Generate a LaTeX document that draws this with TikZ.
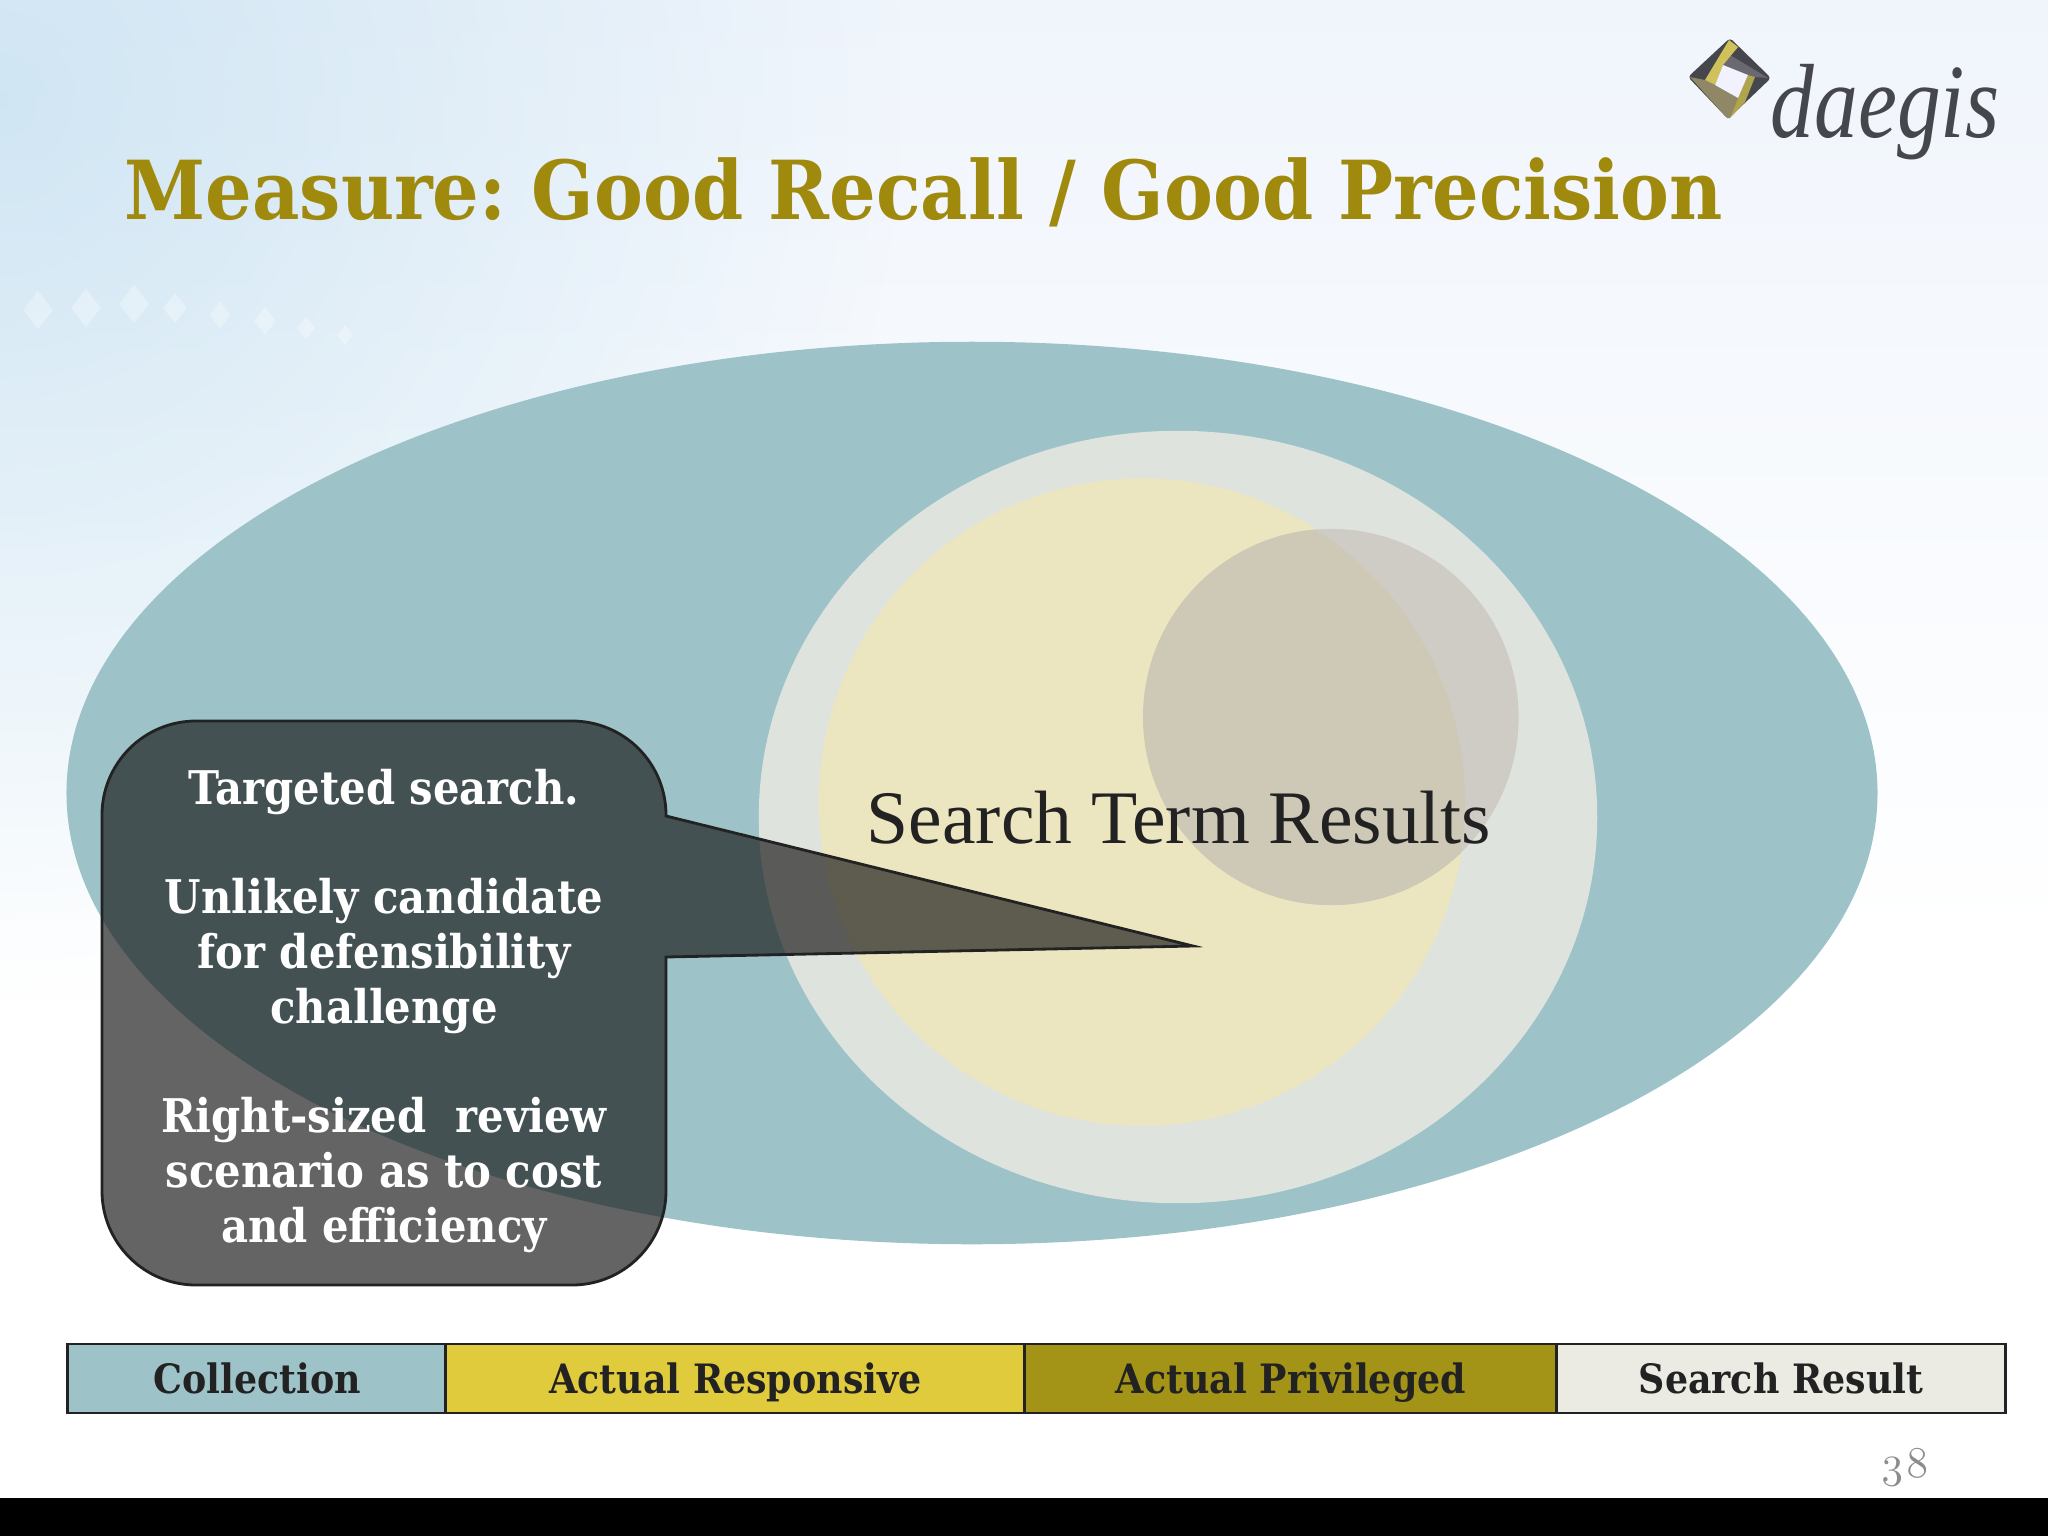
\documentclass[tikz,border=0pt]{standalone}
\usepackage{fontspec}
\usetikzlibrary{fadings,shapes.geometric}
\setmainfont{Liberation Serif}
\newfontfamily\georgia{DejaVu Serif Condensed}[BoldFont={DejaVu Serif Condensed Bold}]
\newfontfamily\oldnum{Latin Modern Roman}[Numbers=OldStyle]
\definecolor{tealc}{HTML}{9DC3C9}
\definecolor{ringc}{HTML}{DFE3DD}
\definecolor{creamc}{HTML}{EBE6BF}
\definecolor{privA}{HTML}{CDC9B6}
\definecolor{privB}{HTML}{CFCCC6}
\definecolor{yelc}{HTML}{E0CB3C}
\definecolor{olivec}{HTML}{A39418}
\definecolor{palec}{HTML}{EBEBE3}
\definecolor{titlec}{HTML}{A08A0E}
\definecolor{ink}{HTML}{222222}
\definecolor{bgtop}{HTML}{F0F5FC}
\definecolor{bgblob}{HTML}{BCDCEE}
\definecolor{logodark}{HTML}{45474C}
\definecolor{logogrey}{HTML}{6A6870}
\definecolor{logomid}{HTML}{8F8766}
\definecolor{logogold}{HTML}{CFC25A}
\tikzfading[name=blobfade, inner color=transparent!0, outer color=transparent!100]
\tikzset{
  x=0.01cm,y=-0.01cm,
  legendbox/.style={draw=ink,line width=0.8pt,minimum height=0.69cm,inner sep=0pt,text height=9.4pt,text depth=0.6pt,font=\georgia\bfseries\fontsize{11.5}{14}\selectfont,text=ink},
  calloutline/.style={font=\georgia\bfseries\fontsize{13.2}{15.6}\selectfont,text=white,align=center,inner sep=0pt},
  venn/.style={ellipse,inner sep=0pt},
  spark/.style={diamond,fill=white,fill opacity=.3,inner sep=0pt},
}
\begin{document}
\frenchspacing
\begin{tikzpicture}
\useasboundingbox (0,0) rectangle (2048,1536);
\fill[white] (0,0) rectangle (2048,1536);
\shade[top color=bgtop,bottom color=white] (0,0) rectangle (2048,950);
\fill[bgblob,path fading=blobfade,fill opacity=.62] (-900,-800) rectangle (900,1000);
\foreach \px/\py/\pr in {38/310/.3,86/308/.3,134/304/.3,175/308/.24,220/315/.22,265/321/.22,306/328/.18,345/335/.16}
  \node[spark,minimum width=\pr cm,minimum height=\pr cm*1.3] at (\px,\py) {};
% Venn
\node[venn,fill=tealc,minimum width=18.10cm,minimum height=9.02cm] (coll) at (972,793) {};
\node[venn,fill=ringc,minimum width=8.38cm,minimum height=7.72cm] (res) at (1178,817) {};
\node[venn,fill=creamc,minimum width=6.46cm,minimum height=6.47cm] (resp) at (1142,802) {};
\node[venn,fill=privB,minimum width=3.75cm,minimum height=3.76cm] (priv) at (1331,717) {};
\begin{scope}
  \clip (1142,802) circle[radius=323];
  \fill[privA] (1331,717) circle[radius=188];
\end{scope}
\node[font=\fontsize{21.5}{24}\selectfont,text=ink,anchor=base,inner sep=0pt] (stlabel) at (1179,843) {Search Term Results};
% Callout
\draw[draw=ink,line width=0.8pt,fill=black!90,fill opacity=.67,line join=miter]
  (196,721) -- (572,721) arc[start angle=-90,end angle=0,radius=94] -- (666,816)
  -- (1193,946) -- (666,957) -- (666,1191) arc[start angle=0,end angle=90,radius=94]
  -- (196,1285) arc[start angle=90,end angle=180,radius=94] -- (102,815)
  arc[start angle=180,end angle=270,radius=94] -- cycle;
\node[calloutline,anchor=base] (t1) at (384,804) {Targeted search.};
\node[calloutline,anchor=base] (t2) at (384,1023) {Unlikely candidate\\for defensibility\\challenge};
\node[calloutline,anchor=base] (t3) at (384,1242) {Right-sized\ \ review\\scenario as to cost\\and efficiency};
% Title
\node[font=\georgia\bfseries\fontsize{23.15}{26}\selectfont,text=titlec,anchor=base west,inner sep=0pt] (title) at (124,219) {Measure: Good Recall / Good Precision};
% Logo
\fill[logodark,rounded corners=1pt] (1730,38) -- (1771,78) -- (1728,119) -- (1688,77) -- cycle;
\fill[logogrey] (1723,65) -- (1730,55) -- (1768,78) -- (1755,77) -- (1748,75) -- cycle;
\fill[logomid] (1690,77) -- (1705,80) -- (1715,85) -- (1738,98) -- (1730,118) -- (1727,118) -- cycle;
\fill[logogold] (1729,40) -- (1738,47) -- (1723,65) -- (1715,85) -- (1705,80) -- cycle;
\fill[logogold!85!black] (1748,75) -- (1755,77) -- (1745,102) -- (1730,118) -- (1738,98) -- cycle;
\fill[white!95!blue] (1723,65) -- (1748,75) -- (1738,98) -- (1715,85) -- cycle;
\node[font=\itshape\fontsize{30}{32}\selectfont,text=logodark,anchor=base west,inner sep=0pt] (logo) at (1770,137) {\scalebox{.83}[1]{daegis}};
% Legend
\node[legendbox,fill=tealc,minimum width=3.78cm] (l1) at (257,1378.5) {Collection};
\node[legendbox,fill=yelc,minimum width=5.79cm] (l2) at (735.5,1378.5) {Actual Responsive};
\node[legendbox,fill=olivec,minimum width=5.32cm] (l3) at (1291,1378.5) {Actual Privileged};
\node[legendbox,fill=palec,minimum width=4.48cm] (l4) at (1781,1378.5) {Search Result};
% Page number and bar
\node[font=\oldnum\fontsize{12.5}{14}\selectfont,text=black!45,inner sep=0pt] (num) at (1905,1468) {38};
\fill[black] (0,1498) rectangle (2048,1536);
\end{tikzpicture}
\end{document}
